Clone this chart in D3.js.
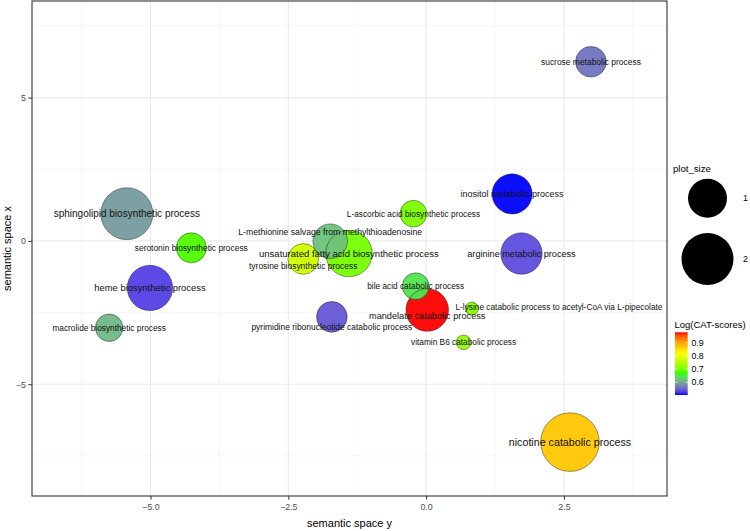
<!DOCTYPE html>
<html>
<head>
<meta charset="utf-8">
<script src="https://cdn.jsdelivr.net/npm/d3@7"></script>
<style>
  body { margin: 0; background: #fff; }
  text { font-family: "Liberation Sans", Arial, sans-serif; }
</style>
</head>
<body>
<div id="chart"></div>
<script>
// GO terms (REVIGO style scatter)
var terms = [
  "sucrose metabolic process",
  "inositol metabolic process",
  "L-ascorbic acid biosynthetic process",
  "L-methionine salvage from methylthioadenosine",
  "unsaturated fatty acid biosynthetic process",
  "tyrosine biosynthetic process",
  "serotonin biosynthetic process",
  "heme biosynthetic process",
  "macrolide biosynthetic process",
  "sphingolipid biosynthetic process",
  "pyrimidine ribonucleotide catabolic process",
  "bile acid catabolic process",
  "mandelate catabolic process",
  "L-lysine catabolic process to acetyl-CoA via L-pipecolate",
  "vitamin B6 catabolic process",
  "arginine metabolic process",
  "nicotine catabolic process"
];

// horizontal axis ("semantic space y")
var spaceY = [2.99, 1.56, -0.23, -1.74, -1.40, -2.23, -4.26, -5.01, -5.75, -5.43, -1.71, -0.19, 0.02, 0.83, 0.68, 1.73, 2.61];
// vertical axis ("semantic space x")
var spaceX = [6.25, 1.64, 0.95, -0.01, -0.44, -0.63, -0.24, -1.64, -3.03, 0.95, -2.65, -1.58, -2.41, -2.36, -3.54, -0.44, -7.02];

// where the text label sits (data units)
var labelY = [2.99, 1.56, -0.23, -1.74, -1.40, -2.23, -4.26, -5.01, -5.75, -5.43, -1.71, -0.19, 0.02, 2.41, 0.68, 1.73, 2.61];
var labelX = [6.25, 1.64, 0.95, 0.31, -0.44, -0.86, -0.26, -1.64, -3.03, 0.95, -3.00, -1.58, -2.61, -2.30, -3.54, -0.44, -7.02];

var plotSize = [0.54, 1.07, 0.37, 0.74, 1.54, 0.54, 0.51, 1.45, 0.40, 2.00, 0.54, 0.37, 1.24, 0.03, 0.05, 1.16, 2.64];
var catScore = [0.563, 0.505, 0.703, 0.619, 0.700, 0.773, 0.679, 0.529, 0.611, 0.592, 0.544, 0.644, 0.978, 0.710, 0.720, 0.537, 0.869];

var xTicks = [-5.0, -2.5, 0.0, 2.5];
var yTicks = [-5, 0, 5];
var sizeBreaks = [1, 2];
var colorBreaks = [0.6, 0.7, 0.8, 0.9];

var width = 750;
var height = 531;

var data = terms.map(function(t, i) {
  return {
    term: t, h: spaceY[i], v: spaceX[i],
    lh: labelY[i], lv: labelX[i],
    size: plotSize[i], score: catScore[i]
  };
});

var svg = d3.select("#chart")
  .append("svg")
  .attr("width", width)
  .attr("height", height);

var panel = { left: 32, right: 667, top: 1, bottom: 496 };

var xScale = d3.scaleLinear().domain([-7.15, 4.37]).range([panel.left, panel.right]);
var yScale = d3.scaleLinear().domain([-8.9, 8.37]).range([panel.bottom, panel.top]);

var rScale = d3.scaleSqrt().domain([1, 2]).range([19.5, 26]);
var fontScale = d3.scaleLinear().domain([0.4, 2.64]).range([8.3, 10.7]).clamp(true);

var cMin = d3.min(catScore), cMax = d3.max(catScore);
var colorScale = d3.scaleLinear()
  .domain([cMin, cMin + (cMax - cMin) / 3, cMin + 2 * (cMax - cMin) / 3, cMax])
  .range(["blue", "#00ff00", "yellow", "red"])
  .interpolate(d3.interpolateLab);

// grid
var grid = svg.append("g");
var minorX = [-6.25, -3.75, -1.25, 1.25, 3.75];
var minorY = [-7.5, -2.5, 2.5, 7.5];
grid.selectAll(".mx").data(minorX).enter().append("line")
  .attr("x1", function(d) { return xScale(d); }).attr("x2", function(d) { return xScale(d); })
  .attr("y1", panel.top).attr("y2", panel.bottom)
  .attr("stroke", "#f0f0f0").attr("stroke-width", 0.6);
grid.selectAll(".my").data(minorY).enter().append("line")
  .attr("y1", function(d) { return yScale(d); }).attr("y2", function(d) { return yScale(d); })
  .attr("x1", panel.left).attr("x2", panel.right)
  .attr("stroke", "#f0f0f0").attr("stroke-width", 0.6);
grid.selectAll(".gx").data(xTicks).enter().append("line")
  .attr("x1", function(d) { return xScale(d); }).attr("x2", function(d) { return xScale(d); })
  .attr("y1", panel.top).attr("y2", panel.bottom)
  .attr("stroke", "#ebebeb").attr("stroke-width", 1.1);
grid.selectAll(".gy").data(yTicks).enter().append("line")
  .attr("y1", function(d) { return yScale(d); }).attr("y2", function(d) { return yScale(d); })
  .attr("x1", panel.left).attr("x2", panel.right)
  .attr("stroke", "#ebebeb").attr("stroke-width", 1.1);

// axes
var xAxis = d3.axisBottom(xScale).tickValues(xTicks).tickFormat(d3.format(".1f")).tickSize(3.7);
var yAxis = d3.axisLeft(yScale).tickValues(yTicks).tickFormat(d3.format("d")).tickSize(3.7);

var gx = svg.append("g")
  .attr("transform", "translate(0," + panel.bottom + ")")
  .call(xAxis);
var gy = svg.append("g")
  .attr("transform", "translate(" + panel.left + ",0)")
  .call(yAxis);
[gx, gy].forEach(function(g) {
  g.select(".domain").remove();
  g.selectAll(".tick line").attr("stroke", "#333333").attr("stroke-width", 1);
  g.selectAll(".tick text").attr("fill", "#4d4d4d").attr("font-size", 8.8)
    .style("font-family", "'Liberation Sans', Arial, sans-serif");
});
gx.selectAll(".tick text").attr("y", 8);
gy.selectAll(".tick text").attr("x", -6);

// bubbles: biggest first so smaller ones sit on top
var sorted = data.slice().sort(function(a, b) { return b.size - a.size; });

svg.append("g").selectAll("circle").data(sorted).enter().append("circle")
  .attr("cx", function(d) { return xScale(d.h); })
  .attr("cy", function(d) { return yScale(d.v); })
  .attr("r", function(d) { return rScale(d.size); })
  .attr("fill", function(d) { return colorScale(d.score); })
  .attr("fill-opacity", 0.95);

// outlines on top of all fills
svg.append("g").selectAll("circle").data(sorted).enter().append("circle")
  .attr("cx", function(d) { return xScale(d.h); })
  .attr("cy", function(d) { return yScale(d.v); })
  .attr("r", function(d) { return rScale(d.size); })
  .attr("fill", "none")
  .attr("stroke", "#000")
  .attr("stroke-opacity", 0.55)
  .attr("stroke-width", 0.7);

// labels
svg.append("g").selectAll("text").data(data).enter().append("text")
  .attr("x", function(d) { return xScale(d.lh); })
  .attr("y", function(d) { return yScale(d.lv); })
  .attr("dy", "0.35em")
  .attr("text-anchor", "middle")
  .attr("font-size", function(d) { return fontScale(d.size); })
  .attr("fill", "#111")
  .text(function(d) { return d.term; });

// panel border
svg.append("rect")
  .attr("x", panel.left).attr("y", panel.top)
  .attr("width", panel.right - panel.left).attr("height", panel.bottom - panel.top)
  .attr("fill", "none").attr("stroke", "#333333").attr("stroke-width", 1.1);

// axis titles
svg.append("text")
  .attr("x", (panel.left + panel.right) / 2).attr("y", 527)
  .attr("text-anchor", "middle").attr("font-size", 11).attr("fill", "#000")
  .text("semantic space y");
svg.append("text")
  .attr("transform", "translate(11," + (panel.top + panel.bottom) / 2 + ") rotate(-90)")
  .attr("text-anchor", "middle").attr("font-size", 11).attr("fill", "#000")
  .text("semantic space x");

// size legend
var legend = svg.append("g");
legend.append("text").attr("x", 673).attr("y", 171.5).attr("font-size", 9.6).text("plot_size");
var keyY = [198.3, 259];
legend.selectAll(".sk").data(sizeBreaks).enter().append("circle")
  .attr("cx", 707.5)
  .attr("cy", function(d, i) { return keyY[i]; })
  .attr("r", function(d) { return rScale(d); })
  .attr("fill", "#000");
legend.selectAll(".sl").data(sizeBreaks).enter().append("text")
  .attr("x", 743)
  .attr("y", function(d, i) { return keyY[i]; })
  .attr("dy", "0.35em")
  .attr("font-size", 8.8)
  .text(function(d) { return d; });

// colour legend
legend.append("text").attr("x", 674.5).attr("y", 327.5).attr("font-size", 9.5).text("Log(CAT-scores)");
var barTop = 332.3, barBottom = 395, barX = 675, barW = 12.7;
var barScale = d3.scaleLinear().domain([cMin, cMax]).range([barBottom, barTop]);

var grad = svg.append("defs").append("linearGradient")
  .attr("id", "cgrad").attr("x1", 0).attr("y1", 1).attr("x2", 0).attr("y2", 0);
d3.range(0, 1.0001, 0.05).forEach(function(t) {
  grad.append("stop").attr("offset", t)
    .attr("stop-color", colorScale(cMin + t * (cMax - cMin)));
});
legend.append("rect")
  .attr("x", barX).attr("y", barTop)
  .attr("width", barW).attr("height", barBottom - barTop)
  .attr("fill", "url(#cgrad)");
colorBreaks.forEach(function(b) {
  var yy = barScale(b);
  legend.append("line").attr("x1", barX).attr("x2", barX + 2.5).attr("y1", yy).attr("y2", yy)
    .attr("stroke", "#fff").attr("stroke-width", 0.6);
  legend.append("line").attr("x1", barX + barW - 2.5).attr("x2", barX + barW).attr("y1", yy).attr("y2", yy)
    .attr("stroke", "#fff").attr("stroke-width", 0.6);
  legend.append("text").attr("x", 691.5).attr("y", yy).attr("dy", "0.35em")
    .attr("font-size", 8.8).text(d3.format(".1f")(b));
});
</script>
</body>
</html>
